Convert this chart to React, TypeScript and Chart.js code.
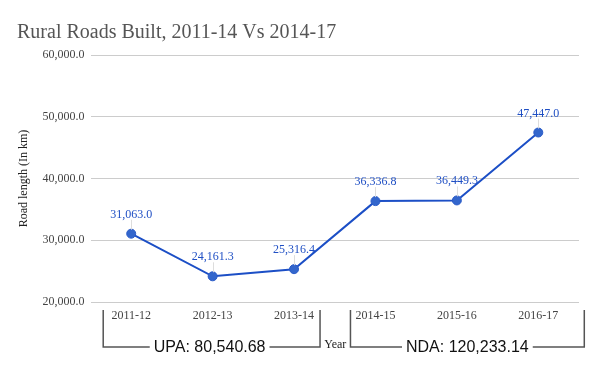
import React, { useEffect, useRef } from "react";
import { Chart, registerables } from "chart.js";

Chart.register(...registerables);

const categories = ["2011-12", "2012-13", "2013-14", "2014-15", "2015-16", "2016-17"];
const roadLength = [31063.0, 24161.3, 25316.4, 36336.8, 36449.3, 47447.0];
const yTicks = [20000, 30000, 40000, 50000, 60000];
const titleText = "Rural Roads Built, 2011-14 Vs 2014-17";
const yTitle = "Road length (In km)";
const xTitle = "Year";
const groupLabels = ["UPA: 80,540.68", "NDA: 120,233.14"];

const fmt = (v: number) =>
  v.toLocaleString("en-US", { minimumFractionDigits: 1, maximumFractionDigits: 1 });

const SERIF = "'Liberation Serif', 'DejaVu Serif', serif";
const SANS = "'Liberation Sans', Arial, sans-serif";

const overlay = {
  id: "overlay",
  afterDatasetsDraw(chart: any) {
    const ctx = chart.ctx;
    const meta = chart.getDatasetMeta(0);
    ctx.save();
    meta.data.forEach((pt: any, i: number) => {
      const x = pt.x;
      const y = pt.y;
      ctx.strokeStyle = "#dddddd";
      ctx.lineWidth = 1;
      ctx.beginPath();
      ctx.moveTo(Math.round(x) + 0.5, y - 14);
      ctx.lineTo(Math.round(x) + 0.5, y - 4);
      ctx.stroke();
      ctx.fillStyle = "#1f4fc4";
      ctx.font = `12px ${SERIF}`;
      ctx.textAlign = "center";
      ctx.textBaseline = "alphabetic";
      ctx.fillText(fmt(roadLength[i]), x, y - 16);
    });
    ctx.restore();
  },
  afterDraw(chart: any) {
    const ctx = chart.ctx;
    const xs = chart.scales.x;
    const area = chart.chartArea;
    ctx.save();
    ctx.fillStyle = "#555555";
    ctx.font = `20px ${SERIF}`;
    ctx.textAlign = "left";
    ctx.textBaseline = "alphabetic";
    ctx.fillText(titleText, 17, 38);

    ctx.save();
    ctx.translate(27, (area.top + area.bottom) / 2);
    ctx.rotate(-Math.PI / 2);
    ctx.fillStyle = "#222222";
    ctx.font = `12px ${SERIF}`;
    ctx.textAlign = "center";
    ctx.textBaseline = "alphabetic";
    ctx.fillText(yTitle, 0, 0);
    ctx.restore();

    const top = 310;
    const bot = 347;
    const groups = [
      { l: xs.getPixelForValue(0) - 28, r: xs.getPixelForValue(2) + 26, label: groupLabels[0] },
      { l: xs.getPixelForValue(3) - 25, r: xs.getPixelForValue(5) + 46, label: groupLabels[1] },
    ];
    ctx.font = `16px ${SANS}`;
    groups.forEach((g, gi) => {
      const cx = (g.l + g.r) / 2 - (gi === 0 ? 2 : 0);
      const tw = ctx.measureText(g.label).width;
      ctx.strokeStyle = "#555555";
      ctx.lineWidth = 1.5;
      ctx.beginPath();
      ctx.moveTo(g.l, top);
      ctx.lineTo(g.l, bot);
      ctx.lineTo(cx - tw / 2 - 4, bot);
      ctx.moveTo(cx + tw / 2 + 4, bot);
      ctx.lineTo(g.r, bot);
      ctx.lineTo(g.r, top);
      ctx.stroke();
      ctx.fillStyle = "#111111";
      ctx.textAlign = "center";
      ctx.textBaseline = "middle";
      ctx.fillText(g.label, cx, bot + 1);
    });
    ctx.fillStyle = "#222222";
    ctx.font = `12px ${SERIF}`;
    ctx.textAlign = "center";
    ctx.textBaseline = "alphabetic";
    ctx.fillText(xTitle, (groups[0].r + groups[1].l) / 2, 348);
    ctx.restore();
  },
};

export default function App() {
  const ref = useRef<HTMLCanvasElement | null>(null);
  useEffect(() => {
    document.body.style.margin = "0";
    const canvas = ref.current!;
    const chart = new Chart(canvas, {
      type: "line",
      data: {
        labels: categories,
        datasets: [
          {
            data: roadLength,
            borderColor: "#1c4fc6",
            backgroundColor: "#3366cc",
            pointBackgroundColor: "#3366cc",
            pointBorderColor: "#2a5bc8",
            pointRadius: 4.5,
            pointBorderWidth: 1,
            borderWidth: 2,
            tension: 0,
            fill: false,
          },
        ],
      },
      options: {
        responsive: false,
        animation: false,
        devicePixelRatio: 1,
        layout: { padding: { left: 0, top: 55, right: 21, bottom: 0 } },
        plugins: {
          legend: { display: false },
          title: { display: false },
          tooltip: { enabled: false },
        },
        scales: {
          x: {
            type: "category",
            offset: true,
            grid: { display: false, drawTicks: false },
            border: { display: false },
            ticks: {
              color: "#444444",
              font: { family: SERIF, size: 12 },
              padding: 7,
              maxRotation: 0,
              autoSkip: false,
            },
            afterFit: (s: any) => {
              s.height = 69;
            },
          },
          y: {
            min: 20000,
            max: 60000,
            afterBuildTicks: (s: any) => {
              s.ticks = yTicks.map((v) => ({ value: v }));
            },
            grid: { color: "#cccccc", lineWidth: 1, drawTicks: false },
            border: { display: false },
            ticks: {
              color: "#444444",
              font: { family: SERIF, size: 12 },
              padding: 6,
              callback: (v: any) => fmt(Number(v)),
            },
            afterFit: (s: any) => {
              s.width = 90.5;
            },
          },
        },
      },
      plugins: [overlay],
    });
    return () => chart.destroy();
  }, []);
  return <canvas ref={ref} width={600} height={371} style={{ display: "block" }} />;
}
